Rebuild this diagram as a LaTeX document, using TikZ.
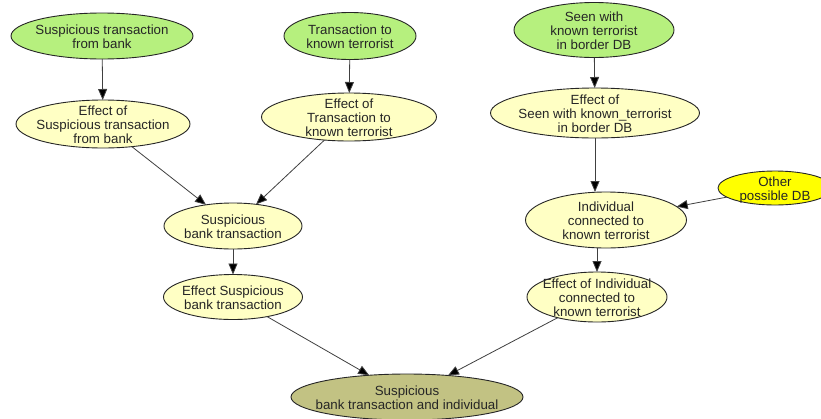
\documentclass[tikz,border=0pt]{standalone}
\usepackage{fontspec}
\setmainfont{Liberation Sans}
\usetikzlibrary{arrows.meta,shapes.geometric}
\definecolor{evgreen}{HTML}{B6F07E}
\definecolor{efyellow}{HTML}{FFFFC4}
\definecolor{othyellow}{HTML}{FFFF00}
\definecolor{finolive}{HTML}{C2C283}
\definecolor{linegray}{HTML}{404040}
\newcommand{\zt}[1]{\makebox[0pt]{\raisebox{-6pt}[0pt][0pt]{\begin{tabular}[c]{@{}c@{}}#1\end{tabular}}}}
\tikzset{
  bnode/.style={ellipse, draw=black!85, line width=0.9pt, inner sep=0pt, outer sep=0pt,
    font=\fontsize{13.3}{14}\selectfont, text=black!85},
  evid/.style={bnode, fill=evgreen},
  eff/.style={bnode, fill=efyellow},
  oth/.style={bnode, fill=othyellow},
  fin/.style={bnode, fill=finolive},
  link/.style={draw=linegray, line width=0.8pt, -{Triangle[length=11pt,width=9pt,fill=black]}},
}
\begin{document}
\begin{tikzpicture}[x=1pt,y=-1pt]
\useasboundingbox (0,0) rectangle (821,418);
\fill[white] (0,0) rectangle (821,418);
\node[evid, minimum width=182pt, minimum height=46pt] (s1) at (102,36) {\zt{Suspicious transaction\\from bank}};
\node[evid, minimum width=132pt, minimum height=47pt] (s2) at (350,36) {\zt{Transaction to\\known terrorist}};
\node[evid, minimum width=160pt, minimum height=55pt] (s3) at (594,30) {\zt{Seen with\\known terrorist\\in border DB}};
\node[eff, minimum width=174pt, minimum height=48pt] (e1) at (103,124) {\zt{Effect of\\Suspicious transaction\\from bank}};
\node[eff, minimum width=175pt, minimum height=48pt] (e2) at (349,117) {\zt{Effect of\\Transaction to\\known terrorist}};
\node[eff, minimum width=209pt, minimum height=50pt] (e3) at (595,113) {\zt{Effect of\\Seen with known\_terrorist\\in border DB}};
\node[oth, minimum width=114pt, minimum height=34pt] (od) at (775,188) {\zt{Other\\possible DB}};
\node[eff, minimum width=161pt, minimum height=56pt] (ind) at (606,220) {\zt{Individual\\connected to\\known terrorist}};
\node[eff, minimum width=138pt, minimum height=46pt] (sbt) at (233,226) {\zt{Suspicious\\bank transaction}};
\node[eff, minimum width=139pt, minimum height=45pt] (esbt) at (233,297) {\zt{Effect Suspicious\\bank transaction}};
\node[eff, minimum width=140pt, minimum height=50pt] (eind) at (597,297) {\zt{Effect of Individual\\connected to\\known terrorist}};
\node[fin, minimum width=232pt, minimum height=46pt] (fin) at (407,397) {\zt{Suspicious\\bank transaction and individual}};
\draw[link] (s1) -- (e1);
\draw[link] (s2) -- (e2);
\draw[link] (s3) -- (e3);
\draw[link] (e1) -- (sbt);
\draw[link] (e2) -- (sbt);
\draw[link] (e3.south) -- (ind.north -| e3.south);
\draw[link] (od) -- (ind);
\draw[link] (sbt) -- (esbt);
\draw[link] (ind.south -| eind.north) -- (eind.north);
\draw[link] (esbt) -- (fin);
\draw[link] (eind) -- (fin);
\end{tikzpicture}
\end{document}
